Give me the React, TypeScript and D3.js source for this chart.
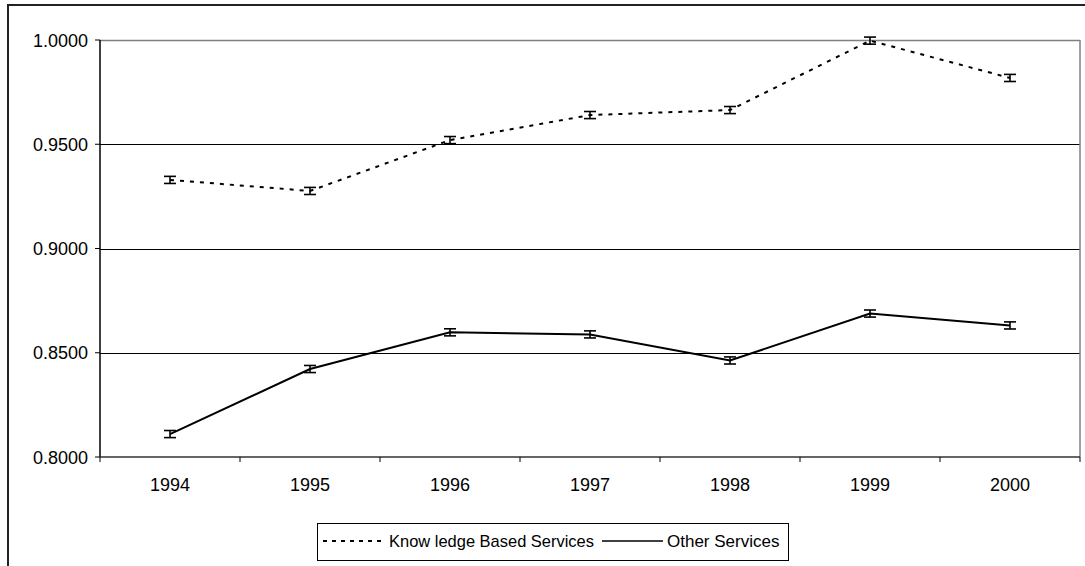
import React from "react";
import * as d3 from "d3";

const years = ["1994", "1995", "1996", "1997", "1998", "1999", "2000"];
const knowledgeBased = [0.9329, 0.9276, 0.952, 0.964, 0.9664, 0.9997, 0.9818];
const otherServices = [0.811, 0.8422, 0.8598, 0.8588, 0.8463, 0.8688, 0.8631];
const errorMargin = 0.0017;
const yTicks = [0.8, 0.85, 0.9, 0.95, 1.0];
const legendLabels = ["Know ledge Based Services", "Other Services"];

const W = 1085;
const H = 566;
const plot = { left: 100, right: 1080, top: 40, bottom: 457 };
const FONT = "'Liberation Sans', Arial, sans-serif";

export default function App() {
  const x = d3.scaleBand<string>().domain(years).range([plot.left, plot.right]).padding(0);
  const y = d3.scaleLinear().domain([0.8, 1.0]).range([plot.bottom, plot.top]);
  const cx = (yr: string) => (x(yr) as number) + x.bandwidth() / 2;

  const line = d3
    .line<number>()
    .x((_, i) => cx(years[i]))
    .y((d) => y(d));

  const errBars = (vals: number[], key: string) =>
    vals.map((v, i) => {
      const px = cx(years[i]);
      const y1 = y(v + errorMargin);
      const y2 = y(v - errorMargin);
      return (
        <g key={key + i} stroke="#000" strokeWidth={1.6}>
          <line x1={px} x2={px} y1={y1} y2={y2} />
          <line x1={px - 6} x2={px + 6} y1={y1} y2={y1} />
          <line x1={px - 6} x2={px + 6} y1={y2} y2={y2} />
        </g>
      );
    });

  const tickEdges = [...years.map((yr) => x(yr) as number), plot.right];

  return (
    <svg
      width={W}
      height={H}
      style={{ position: "absolute", left: 0, top: 0, background: "#fff" }}
      fontFamily={FONT}
    >
      <rect x={0} y={0} width={W} height={H} fill="#fff" />
      {/* outer chart border */}
      <rect x={8} y={5} width={1200} height={700} fill="none" stroke="#222" strokeWidth={2} />

      {/* gridlines */}
      {yTicks.slice(1, -1).map((t) => (
        <line key={t} x1={plot.left} x2={plot.right} y1={Math.round(y(t)) + 0.5} y2={Math.round(y(t)) + 0.5} stroke="#000" strokeWidth={1} />
      ))}
      {/* plot area border (gray) */}
      <line x1={plot.left} x2={plot.right} y1={plot.top + 0.5} y2={plot.top + 0.5} stroke="#808080" strokeWidth={1.5} />
      <line x1={plot.right} x2={plot.right} y1={plot.top} y2={plot.bottom} stroke="#808080" strokeWidth={1.5} />

      {/* axes */}
      <line x1={plot.left} x2={plot.left} y1={plot.top} y2={plot.bottom} stroke="#000" strokeWidth={1.5} />
      <line x1={plot.left} x2={plot.right} y1={plot.bottom} y2={plot.bottom} stroke="#333" strokeWidth={1.5} />

      {/* y ticks and labels */}
      {yTicks.map((t) => (
        <g key={"yt" + t}>
          <line x1={plot.left - 5} x2={plot.left} y1={y(t)} y2={y(t)} stroke="#000" strokeWidth={1} />
          <text x={88} y={y(t) + 6.5} textAnchor="end" fontSize={18} fill="#000">
            {t.toFixed(4)}
          </text>
        </g>
      ))}

      {/* x ticks and labels */}
      {tickEdges.map((e, i) => (
        <line key={"xt" + i} x1={e} x2={e} y1={plot.bottom} y2={plot.bottom + 5} stroke="#000" strokeWidth={1} />
      ))}
      {years.map((yr) => (
        <text key={"xl" + yr} x={cx(yr)} y={491} textAnchor="middle" fontSize={18} fill="#000">
          {yr}
        </text>
      ))}

      {/* series */}
      <path d={line(knowledgeBased) || ""} fill="none" stroke="#000" strokeWidth={2} strokeDasharray="4,6" />
      <path d={line(otherServices) || ""} fill="none" stroke="#000" strokeWidth={2} />
      {errBars(knowledgeBased, "k")}
      {errBars(otherServices, "o")}

      {/* legend */}
      <rect x={317.5} y={523.5} width={471} height={37} fill="#fff" stroke="#000" strokeWidth={1} />
      <line x1={323} x2={382} y1={541} y2={541} stroke="#000" strokeWidth={2} strokeDasharray="4,5" />
      <text x={389} y={547} fontSize={17} fill="#000" textLength={205} lengthAdjust="spacingAndGlyphs">
        {legendLabels[0]}
      </text>
      <line x1={602} x2={663} y1={541} y2={541} stroke="#000" strokeWidth={1.6} />
      <text x={667} y={547} fontSize={17} fill="#000">
        {legendLabels[1]}
      </text>
    </svg>
  );
}
